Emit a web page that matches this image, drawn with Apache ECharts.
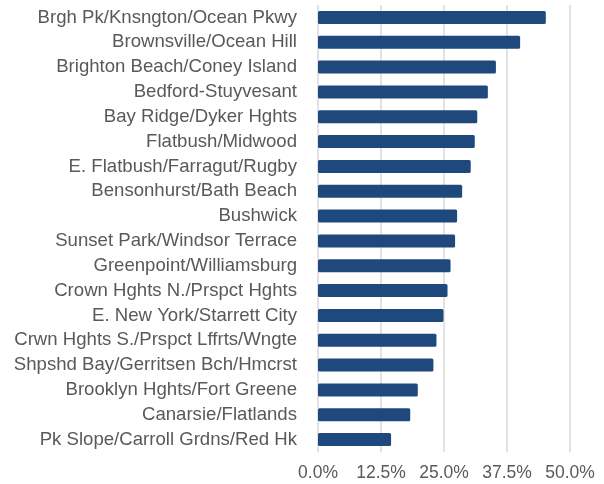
<!DOCTYPE html>
<html>
<head>
<meta charset="utf-8">
<script src="https://cdn.jsdelivr.net/npm/echarts@6/dist/echarts.min.js"></script>
<style>
  html, body { margin: 0; padding: 0; background: #fff; }
  #main { width: 604px; height: 484px; }
</style>
</head>
<body>
<div id="main"></div>
<script>
// neighbourhoods, top to bottom
const areas = [
  'Brgh Pk/Knsngton/Ocean Pkwy',
  'Brownsville/Ocean Hill',
  'Brighton Beach/Coney Island',
  'Bedford-Stuyvesant',
  'Bay Ridge/Dyker Hghts',
  'Flatbush/Midwood',
  'E. Flatbush/Farragut/Rugby',
  'Bensonhurst/Bath Beach',
  'Bushwick',
  'Sunset Park/Windsor Terrace',
  'Greenpoint/Williamsburg',
  'Crown Hghts N./Prspct Hghts',
  'E. New York/Starrett City',
  'Crwn Hghts S./Prspct Lffrts/Wngte',
  'Shpshd Bay/Gerritsen Bch/Hmcrst',
  'Brooklyn Hghts/Fort Greene',
  'Canarsie/Flatlands',
  'Pk Slope/Carroll Grdns/Red Hk'
]
// percent values
const shares = [45.2, 40.1, 35.3, 33.7, 31.6, 31.1, 30.3, 28.6, 27.6, 27.2, 26.3, 25.7, 24.9, 23.5, 22.9, 19.8, 18.3, 14.5]
const xTicks = { min: 0, max: 50, step: 12.5 }

const chart = echarts.init(document.getElementById('main'))

const option = {
  animation: false,
  grid: {
    top: 5,
    bottom: 32,
    left: 318,
    right: 34,
    containLabel: false
  },
  xAxis: {
    type: 'value',
    min: xTicks.min,
    max: xTicks.max,
    interval: xTicks.step,
    axisLine: { show: false },
    axisTick: { show: false },
    axisLabel: {
      color: '#595959',
      fontSize: 17.5,
      fontFamily: 'Liberation Sans',
      margin: 12,
      formatter: v => v.toFixed(1) + '%'
    },
    splitLine: { lineStyle: { color: '#d9d9d9', width: 1.5 } }
  },
  yAxis: {
    type: 'category',
    inverse: true,
    data: areas,
    axisLine: { show: false },
    axisTick: { show: false },
    axisLabel: {
      color: '#595959',
      fontSize: 18.6,
      fontFamily: 'Liberation Sans',
      margin: 21
    }
  },
  series: [
    {
      type: 'bar',
      data: shares,
      barWidth: 13,
      itemStyle: { color: '#1f497d', borderRadius: 1.5 }
    }
  ]
}

chart.setOption(option)
</script>
</body>
</html>
